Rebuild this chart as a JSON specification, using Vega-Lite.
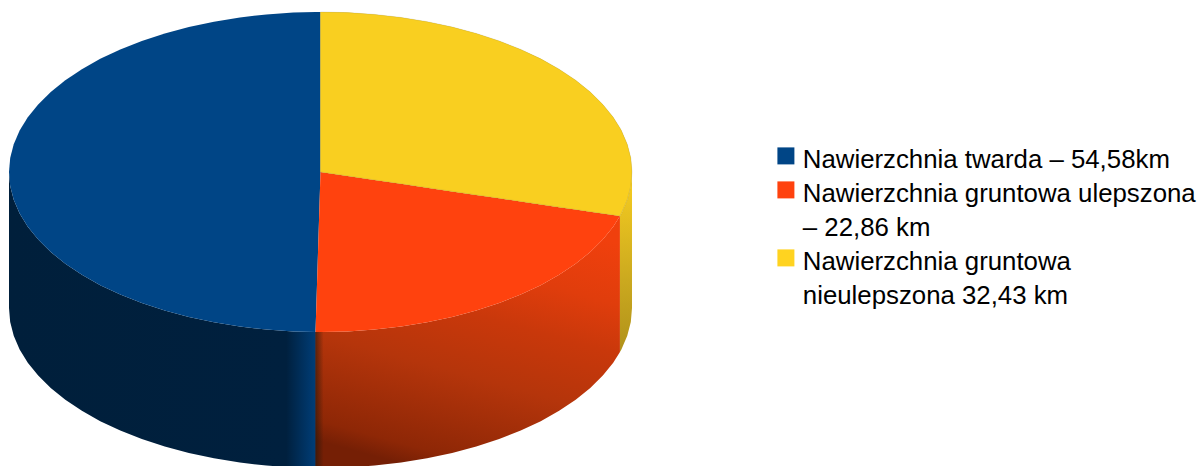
{
"$schema":"https://vega.github.io/schema/vega-lite/v6.json",
"autosize":{"type":"fit","contains":"padding"},
"width":1198,"height":466,"padding":0,
"background":"#ffffff",
"view":{"stroke":null},
"config":{"style":{"guide-label":{"lineHeight":34,"dy":-8}}},
"datasets":{"outline":[
{"part":"top","series":"a","u":-1,"y":0,"y2":0},
{"part":"top","series":"a","u":-0.9962,"y":0.0872,"y2":-0.0872},
{"part":"top","series":"a","u":-0.9848,"y":0.1736,"y2":-0.1736},
{"part":"top","series":"a","u":-0.9659,"y":0.2588,"y2":-0.2588},
{"part":"top","series":"a","u":-0.9397,"y":0.342,"y2":-0.342},
{"part":"top","series":"a","u":-0.9063,"y":0.4226,"y2":-0.4226},
{"part":"top","series":"a","u":-0.866,"y":0.5,"y2":-0.5},
{"part":"top","series":"a","u":-0.8192,"y":0.5736,"y2":-0.5736},
{"part":"top","series":"a","u":-0.766,"y":0.6428,"y2":-0.6428},
{"part":"top","series":"a","u":-0.7071,"y":0.7071,"y2":-0.7071},
{"part":"top","series":"a","u":-0.6428,"y":0.766,"y2":-0.766},
{"part":"top","series":"a","u":-0.5736,"y":0.8192,"y2":-0.8192},
{"part":"top","series":"a","u":-0.5,"y":0.866,"y2":-0.866},
{"part":"top","series":"a","u":-0.4226,"y":0.9063,"y2":-0.9063},
{"part":"top","series":"a","u":-0.342,"y":0.9397,"y2":-0.9397},
{"part":"top","series":"a","u":-0.2588,"y":0.9659,"y2":-0.9659},
{"part":"top","series":"a","u":-0.1736,"y":0.9848,"y2":-0.9848},
{"part":"top","series":"a","u":-0.0872,"y":0.9962,"y2":-0.9962},
{"part":"top","series":"a","u":-0.016,"y":0.9999,"y2":-0.9999},
{"part":"top","series":"a","u":0,"y":1,"y2":0},
{"part":"top","series":"b","u":-0.016,"y":-0.9999,"y2":-0.9999},
{"part":"top","series":"b","u":0,"y":0,"y2":-1},
{"part":"top","series":"b","u":0.0872,"y":-0.025,"y2":-0.9962},
{"part":"top","series":"b","u":0.1736,"y":-0.0498,"y2":-0.9848},
{"part":"top","series":"b","u":0.2588,"y":-0.0742,"y2":-0.9659},
{"part":"top","series":"b","u":0.342,"y":-0.098,"y2":-0.9397},
{"part":"top","series":"b","u":0.4226,"y":-0.1212,"y2":-0.9063},
{"part":"top","series":"b","u":0.5,"y":-0.1434,"y2":-0.866},
{"part":"top","series":"b","u":0.5736,"y":-0.1645,"y2":-0.8192},
{"part":"top","series":"b","u":0.6428,"y":-0.1843,"y2":-0.766},
{"part":"top","series":"b","u":0.7071,"y":-0.2027,"y2":-0.7071},
{"part":"top","series":"b","u":0.766,"y":-0.2196,"y2":-0.6428},
{"part":"top","series":"b","u":0.8192,"y":-0.2349,"y2":-0.5736},
{"part":"top","series":"b","u":0.866,"y":-0.2483,"y2":-0.5},
{"part":"top","series":"b","u":0.9063,"y":-0.2598,"y2":-0.4226},
{"part":"top","series":"b","u":0.9397,"y":-0.2694,"y2":-0.342},
{"part":"top","series":"b","u":0.9613,"y":-0.2756,"y2":-0.2756},
{"part":"top","series":"c","u":0,"y":1,"y2":0},
{"part":"top","series":"c","u":0.0872,"y":0.9962,"y2":-0.025},
{"part":"top","series":"c","u":0.1736,"y":0.9848,"y2":-0.0498},
{"part":"top","series":"c","u":0.2588,"y":0.9659,"y2":-0.0742},
{"part":"top","series":"c","u":0.342,"y":0.9397,"y2":-0.098},
{"part":"top","series":"c","u":0.4226,"y":0.9063,"y2":-0.1212},
{"part":"top","series":"c","u":0.5,"y":0.866,"y2":-0.1434},
{"part":"top","series":"c","u":0.5736,"y":0.8192,"y2":-0.1645},
{"part":"top","series":"c","u":0.6428,"y":0.766,"y2":-0.1843},
{"part":"top","series":"c","u":0.7071,"y":0.7071,"y2":-0.2027},
{"part":"top","series":"c","u":0.766,"y":0.6428,"y2":-0.2196},
{"part":"top","series":"c","u":0.8192,"y":0.5736,"y2":-0.2349},
{"part":"top","series":"c","u":0.866,"y":0.5,"y2":-0.2483},
{"part":"top","series":"c","u":0.9063,"y":0.4226,"y2":-0.2598},
{"part":"top","series":"c","u":0.9397,"y":0.342,"y2":-0.2694},
{"part":"top","series":"c","u":0.9613,"y":0.2756,"y2":-0.2756},
{"part":"top","series":"c","u":0.9659,"y":0.2588,"y2":-0.2588},
{"part":"top","series":"c","u":0.9848,"y":0.1736,"y2":-0.1736},
{"part":"top","series":"c","u":0.9962,"y":0.0872,"y2":-0.0872},
{"part":"top","series":"c","u":1,"y":0,"y2":0},
{"part":"side","series":"a","u":-1,"y":0,"y2":-0.85},
{"part":"side","series":"a","u":-0.9962,"y":-0.0872,"y2":-0.9372},
{"part":"side","series":"a","u":-0.9848,"y":-0.1736,"y2":-1.0236},
{"part":"side","series":"a","u":-0.9659,"y":-0.2588,"y2":-1.1088},
{"part":"side","series":"a","u":-0.9397,"y":-0.342,"y2":-1.192},
{"part":"side","series":"a","u":-0.9063,"y":-0.4226,"y2":-1.2726},
{"part":"side","series":"a","u":-0.866,"y":-0.5,"y2":-1.35},
{"part":"side","series":"a","u":-0.8192,"y":-0.5736,"y2":-1.4236},
{"part":"side","series":"a","u":-0.766,"y":-0.6428,"y2":-1.4928},
{"part":"side","series":"a","u":-0.7071,"y":-0.7071,"y2":-1.5571},
{"part":"side","series":"a","u":-0.6428,"y":-0.766,"y2":-1.616},
{"part":"side","series":"a","u":-0.5736,"y":-0.8192,"y2":-1.6692},
{"part":"side","series":"a","u":-0.5,"y":-0.866,"y2":-1.716},
{"part":"side","series":"a","u":-0.4226,"y":-0.9063,"y2":-1.7563},
{"part":"side","series":"a","u":-0.342,"y":-0.9397,"y2":-1.7897},
{"part":"side","series":"a","u":-0.2588,"y":-0.9659,"y2":-1.8159},
{"part":"side","series":"a","u":-0.1736,"y":-0.9848,"y2":-1.8348},
{"part":"side","series":"a","u":-0.0872,"y":-0.9962,"y2":-1.8462},
{"part":"side","series":"a","u":-0.011,"y":-0.9999,"y2":-1.8499},
{"part":"side","series":"b","u":-0.016,"y":-0.9999,"y2":-1.8499},
{"part":"side","series":"b","u":0.0872,"y":-0.9962,"y2":-1.8462},
{"part":"side","series":"b","u":0.1736,"y":-0.9848,"y2":-1.8348},
{"part":"side","series":"b","u":0.2588,"y":-0.9659,"y2":-1.8159},
{"part":"side","series":"b","u":0.342,"y":-0.9397,"y2":-1.7897},
{"part":"side","series":"b","u":0.4226,"y":-0.9063,"y2":-1.7563},
{"part":"side","series":"b","u":0.5,"y":-0.866,"y2":-1.716},
{"part":"side","series":"b","u":0.5736,"y":-0.8192,"y2":-1.6692},
{"part":"side","series":"b","u":0.6428,"y":-0.766,"y2":-1.616},
{"part":"side","series":"b","u":0.7071,"y":-0.7071,"y2":-1.5571},
{"part":"side","series":"b","u":0.766,"y":-0.6428,"y2":-1.4928},
{"part":"side","series":"b","u":0.8192,"y":-0.5736,"y2":-1.4236},
{"part":"side","series":"b","u":0.866,"y":-0.5,"y2":-1.35},
{"part":"side","series":"b","u":0.9063,"y":-0.4226,"y2":-1.2726},
{"part":"side","series":"b","u":0.9397,"y":-0.342,"y2":-1.192},
{"part":"side","series":"b","u":0.9613,"y":-0.2756,"y2":-1.1256},
{"part":"side","series":"c","u":0.9613,"y":-0.2756,"y2":-1.1256},
{"part":"side","series":"c","u":0.9659,"y":-0.2588,"y2":-1.1088},
{"part":"side","series":"c","u":0.9848,"y":-0.1736,"y2":-1.0236},
{"part":"side","series":"c","u":0.9962,"y":-0.0872,"y2":-0.9372},
{"part":"side","series":"c","u":1,"y":0,"y2":-0.85},
{"part":"shade","series":"b","u":-0.016,"y":-0.9999,"y2":-1.8499},
{"part":"shade","series":"b","u":0.01,"y":-0.9999,"y2":-1.8499}
]},
"data":{"name":"outline"},
"encoding":{
"x":{"field":"u","type":"quantitative","sort":null,"scale":{"domain":[-1.0289,2.817],"nice":false,"zero":false},"axis":null},
"y":{"field":"y","type":"quantitative","scale":{"domain":[-1.8375,1.075],"nice":false,"zero":false},"axis":null},
"y2":{"field":"y2"}
},
"layer":[
{"transform":[{"filter":"datum.part==='side'&&datum.series==='a'"}],
 "mark":{"type":"area","clip":true,"color":{"gradient":"linear","x1":0,"y1":0,"x2":1,"y2":0,"stops":[{"offset":0,"color":"#001f3b"},{"offset":0.9,"color":"#00203e"},{"offset":1,"color":"#003f7a"}]}}},
{"transform":[{"filter":"datum.part==='side'&&datum.series==='b'"}],
 "mark":{"type":"area","clip":true,"color":{"gradient":"linear","x1":0.665,"y1":0,"x2":0.335,"y2":1,"stops":[{"offset":0,"color":"#f0400d"},{"offset":0.22,"color":"#e03d0c"},{"offset":0.396,"color":"#c9380b"},{"offset":0.62,"color":"#b5350b"},{"offset":0.927,"color":"#8e2706"},{"offset":1,"color":"#751f05"}]}}},
{"transform":[{"filter":"datum.part==='shade'"}],
 "mark":{"type":"area","clip":true,"color":{"gradient":"linear","x1":0,"y1":0,"x2":1,"y2":0,"stops":[{"offset":0,"color":"rgba(20,20,10,0.55)"},{"offset":1,"color":"rgba(20,20,10,0)"}]}}},
{"transform":[{"filter":"datum.part==='side'&&datum.series==='c'"}],
 "mark":{"type":"area","clip":true,"color":{"gradient":"linear","x1":0,"y1":0,"x2":0,"y2":1,"stops":[{"offset":0,"color":"#f9cf20"},{"offset":0.6,"color":"#cba91f"},{"offset":1,"color":"#b0911a"}]}}},
{"transform":[{"filter":"datum.part==='top'"}],
 "mark":{"type":"area"},
 "encoding":{"color":{"field":"series","type":"nominal",
  "scale":{"domain":["a","b","c"],"range":["#004586","#ff420e","#ffd320"]},
  "legend":{"title":null,"orient":"none","legendX":773,"legendY":143,"symbolType":"square","symbolSize":289,"symbolStrokeWidth":0,"symbolOpacity":1,"labelFont":"Liberation Sans","labelFontSize":25.8,"labelColor":"#000000","labelLimit":420,"labelOffset":4,"labelBaseline":"top","rowPadding":4,"padding":0,
  "labelExpr":"datum.label==='a'?'Nawierzchnia twarda – 54,58km':datum.label==='b'?['Nawierzchnia gruntowa ulepszona','– 22,86 km']:['Nawierzchnia gruntowa','nieulepszona 32,43 km']"}}}},
{"transform":[{"filter":"datum.part==='top'&&datum.series==='c'"}],
 "mark":{"type":"area","color":"#f9cf20","stroke":"#6b6b55","strokeWidth":0.5,"strokeOpacity":0.35}}
]
}
